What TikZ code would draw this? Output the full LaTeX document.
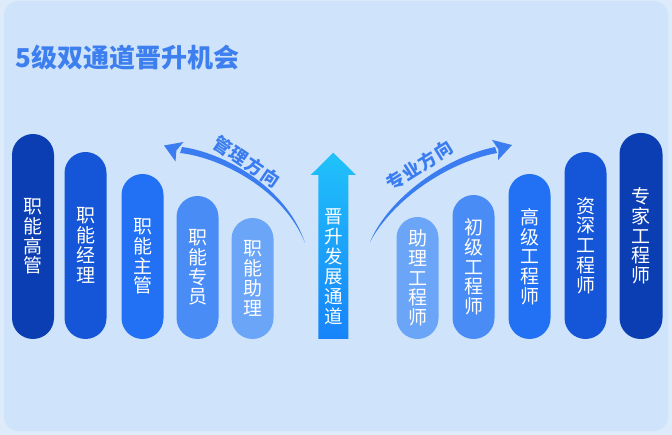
\documentclass[tikz,border=0pt]{standalone}
\usepackage{fontspec}
\newfontfamily\cjk{Noto Sans CJK SC}
\definecolor{cardbg}{HTML}{CFE4FA}
\definecolor{outerbg}{HTML}{DDEBFB}
\definecolor{lvA}{HTML}{0B3EB3}
\definecolor{lvB}{HTML}{1556D9}
\definecolor{lvC}{HTML}{2270F3}
\definecolor{lvD}{HTML}{4A8CF6}
\definecolor{lvE}{HTML}{6BA5F8}
\definecolor{arcblue}{HTML}{3B7DF1}
\definecolor{titleblue}{HTML}{3E7FEF}
\definecolor{arrtop}{HTML}{20C2FA}
\definecolor{arrbot}{HTML}{1783FA}
\begin{document}
\begin{tikzpicture}[x=1pt,y=-1pt,
  pillbox/.style={rectangle, rounded corners=21pt, minimum width=42pt, inner sep=0pt,
    text=white, align=center, font=\cjk\fontsize{19}{19.75}\selectfont},
  arclbl/.style={inner sep=0pt, text=arcblue, font=\cjk\bfseries\fontsize{18}{18}\selectfont},
  uptext/.style={inner sep=0pt, text=white, align=center, font=\cjk\fontsize{18.5}{20}\selectfont}]
\fill[outerbg] (0,0) rectangle (672,435);
\useasboundingbox (0,0) rectangle (672,435);
\fill[cardbg, rounded corners=14pt] (4,1) rectangle (668,431);

% title
\node[anchor=base west, inner sep=0pt, text=titleblue, font=\cjk\bfseries\fontsize{26}{26}\selectfont] (title) at (15,68) {5级双通道晋升机会};

% left pills (management)
\node[pillbox, fill=lvA, minimum height=205pt] (mA) at (33,236.5) {职\\能\\高\\管};
\node[pillbox, fill=lvB, minimum height=187pt] (mB) at (85.5,245.5) {职\\能\\经\\理};
\node[pillbox, fill=lvC, minimum height=165pt] (mC) at (142.5,256.5) {职\\能\\主\\管};
\node[pillbox, fill=lvD, minimum height=143pt] (mD) at (197.5,267.5) {职\\能\\专\\员};
\node[pillbox, fill=lvE, minimum height=121pt] (mE) at (252.5,278.5) {职\\能\\助\\理};

% right pills (professional)
\node[pillbox, fill=lvE, minimum height=122pt] (pE) at (417.5,278) {助\\理\\工\\程\\师};
\node[pillbox, fill=lvD, minimum height=144pt] (pD) at (473.5,267) {初\\级\\工\\程\\师};
\node[pillbox, fill=lvC, minimum height=165pt] (pC) at (529.5,256.5) {高\\级\\工\\程\\师};
\node[pillbox, fill=lvB, minimum height=187pt] (pB) at (585.5,245.5) {资\\深\\工\\程\\师};
\node[pillbox, fill=lvA, minimum height=206pt, minimum width=43pt] (pA) at (641,236) {专\\家\\工\\程\\师};

% central up arrow
\shade[top color=arrtop, bottom color=arrbot] (318.3,339) -- (318.3,175) -- (310.7,175) -- (333.3,152.7) -- (356,175) -- (348.3,175) -- (348.3,339) -- cycle;
\node[uptext] (up) at (333.3,267) {晋\\升\\发\\展\\通\\道};

% left curved arrow (management direction)
\fill[arcblue] (182,147) .. controls (223,152.5) and (286.5,186.5) .. (305,243)
  .. controls (284,190) and (221,157.5) .. (180,153) -- cycle;
\fill[arcblue] (164,145.5) -- (183.5,142) -- (176.4,150.5) -- (175.5,161.5) -- cycle;
\node[arclbl, rotate=-34] (lgl) at (247.2,161.5) {管\kern1.2pt 理\kern1.2pt 方\kern1.2pt 向};

% right curved arrow (professional direction)
\fill[arcblue] (370,242) .. controls (388,199) and (444,157.5) .. (495,147)
  -- (497,153) .. controls (446,162.5) and (392,201) .. (370,242) -- cycle;
\fill[arcblue] (512,145) -- (492,139.9) -- (498.5,149.5) -- (498,160.1) -- cycle;
\node[arclbl, rotate=32] (rzl) at (419.5,165.5) {专\kern1.2pt 业\kern1.2pt 方\kern1.2pt 向};
\end{tikzpicture}
\end{document}
